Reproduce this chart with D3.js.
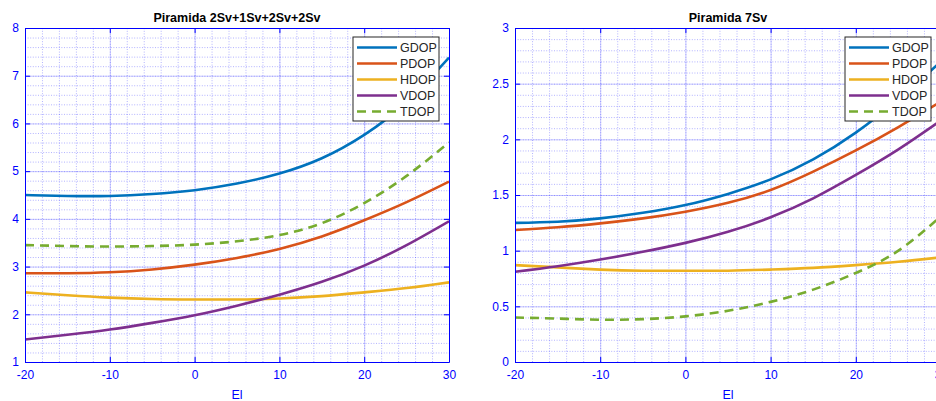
<!DOCTYPE html>
<meta charset="utf-8">
<head>
<title>Piramida DOP</title>
<style>
    body { margin: 0; background: #fff; }
    svg { display: block; font-family: "Liberation Sans", Arial, sans-serif; }
    .tick text { font-size: 12px; fill: #0000ff; }
    .axis path, .axis line { stroke: #0000ff; }
    .grid line { stroke: #0000ff; stroke-opacity: 0.2; }
    .grid path { display: none; }
    .minor line { stroke: #0000ff; stroke-opacity: 0.3; stroke-dasharray: 1,1.6; }
    .minor path { display: none; }
</style>
</head>
<body>
<svg width="936" height="401"></svg>
<script src="https://cdn.jsdelivr.net/npm/d3@7"></script>
<script>

// elevation values (x axis)
var elev = [-20, -15, -10, -5, 0, 5, 10, 15, 20, 25, 30];

var names = ["GDOP", "PDOP", "HDOP", "VDOP", "TDOP"];
var colors = ["#0072BD", "#D95319", "#EDB120", "#7E2F8E", "#77AC30"];

// left panel: Piramida 2Sv+1Sv+2Sv+2Sv
var gdop1 = [4.50, 4.48, 4.48, 4.52, 4.60, 4.74, 4.95, 5.27, 5.76, 6.45, 7.38];
var pdop1 = [2.86, 2.86, 2.88, 2.94, 3.04, 3.18, 3.37, 3.63, 3.97, 4.35, 4.78];
var hdop1 = [2.46, 2.40, 2.35, 2.32, 2.31, 2.31, 2.33, 2.38, 2.46, 2.55, 2.67];
var vdop1 = [1.47, 1.57, 1.68, 1.82, 1.98, 2.18, 2.41, 2.68, 3.02, 3.45, 3.95];
var tdop1 = [3.45, 3.43, 3.42, 3.43, 3.46, 3.53, 3.66, 3.91, 4.33, 4.90, 5.60];

// right panel: Piramida 7Sv
var gdop2 = [1.25, 1.26, 1.29, 1.34, 1.41, 1.51, 1.64, 1.82, 2.06, 2.36, 2.70];
var pdop2 = [1.185, 1.21, 1.245, 1.29, 1.35, 1.43, 1.545, 1.71, 1.90, 2.11, 2.34];
var hdop2 = [0.87, 0.85, 0.83, 0.82, 0.82, 0.82, 0.83, 0.845, 0.87, 0.90, 0.94];
var vdop2 = [0.81, 0.86, 0.92, 0.99, 1.07, 1.17, 1.30, 1.47, 1.68, 1.91, 2.17];
var tdop2 = [0.40, 0.39, 0.38, 0.385, 0.41, 0.46, 0.54, 0.65, 0.80, 1.00, 1.31];

var xTicks = [-20, -10, 0, 10, 20, 30];
var yTicks1 = [1, 2, 3, 4, 5, 6, 7, 8];
var yTicks2 = [0, 0.5, 1, 1.5, 2, 2.5, 3];

var panels = [
    { title: "Piramida 2Sv+1Sv+2Sv+2Sv", left: 25, right: 449, ydom: [1, 8], yticks: yTicks1, yminor: 35,
      series: [gdop1, pdop1, hdop1, vdop1, tdop1], legendX: 353 },
    { title: "Piramida 7Sv", left: 515, right: 941, ydom: [0, 3], yticks: yTicks2, yminor: 30,
      series: [gdop2, pdop2, hdop2, vdop2, tdop2], legendX: 845 }
];

// plot area (window.top is reserved, so not called "top")
var plotTop = 28, plotBottom = 362;
var svg = d3.select("svg");

// plain hyphen minus like the original, not the unicode minus
var fmt = function(d) { return String(d); };

panels.forEach(function(p, pi) {
    var x = d3.scaleLinear().domain([-20, 30]).range([p.left, p.right]);
    var y = d3.scaleLinear().domain(p.ydom).range([plotBottom, plotTop]);
    var w = p.right - p.left, h = plotBottom - plotTop;
    var g = svg.append("g");

    // clip for the curves
    g.append("clipPath").attr("id", "clip" + pi)
        .append("rect").attr("x", p.left).attr("y", plotTop).attr("width", w).attr("height", h);

    // minor grid
    g.append("g").attr("class", "minor")
        .attr("transform", "translate(0," + plotBottom + ")")
        .call(d3.axisBottom(x).ticks(25).tickSize(-h).tickFormat(""));
    g.append("g").attr("class", "minor")
        .attr("transform", "translate(" + p.left + ",0)")
        .call(d3.axisLeft(y).ticks(p.yminor).tickSize(-w).tickFormat(""));

    // major grid
    g.append("g").attr("class", "grid")
        .attr("transform", "translate(0," + plotBottom + ")")
        .call(d3.axisBottom(x).tickValues(xTicks).tickSize(-h).tickFormat(""));
    g.append("g").attr("class", "grid")
        .attr("transform", "translate(" + p.left + ",0)")
        .call(d3.axisLeft(y).tickValues(p.yticks).tickSize(-w).tickFormat(""));

    // curves
    var line = d3.line()
        .x(function(d, i) { return x(elev[i]); })
        .y(function(d) { return y(d); })
        .curve(d3.curveNatural);

    g.append("g").attr("clip-path", "url(#clip" + pi + ")")
        .selectAll("path")
        .data(p.series)
        .enter().append("path")
        .attr("d", line)
        .attr("fill", "none")
        .attr("stroke", function(d, i) { return colors[i]; })
        .attr("stroke-width", 2.6)
        .attr("stroke-dasharray", function(d, i) { return i == 4 ? "9,6" : null; });

    // axes box with inward ticks
    g.append("g").attr("class", "axis")
        .attr("transform", "translate(0," + plotBottom + ")")
        .call(d3.axisBottom(x).tickValues(xTicks).tickSizeInner(-5).tickSizeOuter(0).tickPadding(8).tickFormat(fmt));
    g.append("g").attr("class", "axis")
        .attr("transform", "translate(0," + plotTop + ")")
        .call(d3.axisTop(x).tickValues(xTicks).tickSizeInner(-5).tickSizeOuter(0).tickFormat(""));
    g.append("g").attr("class", "axis")
        .attr("transform", "translate(" + p.left + ",0)")
        .call(d3.axisLeft(y).tickValues(p.yticks).tickSizeInner(-5).tickSizeOuter(0).tickPadding(6).tickFormat(fmt));
    g.append("g").attr("class", "axis")
        .attr("transform", "translate(" + p.right + ",0)")
        .call(d3.axisRight(y).tickValues(p.yticks).tickSizeInner(-5).tickSizeOuter(0).tickFormat(""));

    // title and x label
    g.append("text")
        .attr("x", (p.left + p.right) / 2).attr("y", 22)
        .attr("text-anchor", "middle")
        .style("font-size", "12.5px").style("font-weight", "bold")
        .text(p.title);
    g.append("text")
        .attr("x", (p.left + p.right) / 2).attr("y", 399)
        .attr("text-anchor", "middle")
        .style("font-size", "12.5px").style("fill", "#0000ff")
        .text("El");

    // legend
    var lg = g.append("g").attr("transform", "translate(" + p.legendX + ",37)");
    lg.append("rect")
        .attr("width", 86).attr("height", 84)
        .attr("fill", "#fff").attr("stroke", "#262626").attr("stroke-width", 1);
    var item = lg.selectAll(".item")
        .data(names)
        .enter().append("g")
        .attr("class", "item")
        .attr("transform", function(d, i) { return "translate(0," + (10.5 + i * 16) + ")"; });
    item.append("line")
        .attr("x1", 4).attr("x2", 44)
        .attr("stroke", function(d, i) { return colors[i]; })
        .attr("stroke-width", 2.6)
        .attr("stroke-dasharray", function(d, i) { return i == 4 ? "9,6" : null; });
    item.append("text")
        .attr("x", 47).attr("dy", "0.36em")
        .style("font-size", "12.5px").style("fill", "#262626")
        .text(function(d) { return d; });
});

</script>
</body>
</html>
